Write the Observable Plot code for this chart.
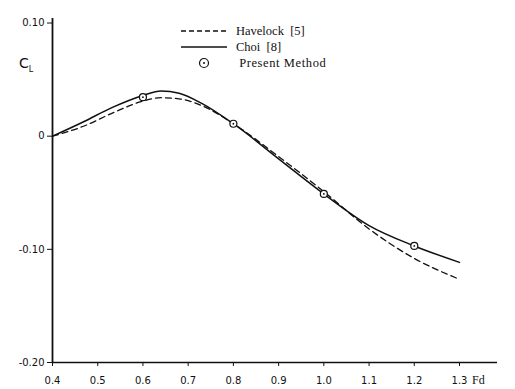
<!DOCTYPE html>
<html>
<head>
<meta charset="utf-8">
<script src="https://cdn.jsdelivr.net/npm/d3@7"></script>
<script src="https://cdn.jsdelivr.net/npm/@observablehq/plot@0.6"></script>
<style>
  html, body { margin: 0; padding: 0; background: #fff; }
  #wrap { position: relative; width: 515px; height: 389px; }
  #legend { position: absolute; left: 180px; top: 23px; font-family: "Liberation Serif", serif; font-size: 12.5px; color: #111; }
  #legend div { height: 16px; display: flex; align-items: center; }
  #legend svg { margin-right: 8px; }
  .lbl { position: absolute; font-family: "DejaVu Sans", sans-serif; color: #111; }
</style>
</head>
<body>
<div id="wrap">
  <div id="chart"></div>
  <div id="legend">
    <div><svg width="48" height="6"><line x1="1" y1="3" x2="47" y2="3" stroke="#111" stroke-width="1.3" stroke-dasharray="5,3"/></svg>Havelock&nbsp;&nbsp;[5]</div>
    <div><svg width="48" height="6"><line x1="1" y1="3" x2="47" y2="3" stroke="#111" stroke-width="1.5"/></svg>Choi&nbsp;&nbsp;[8]</div>
    <div><svg width="48" height="12"><circle cx="24" cy="6" r="4.5" fill="none" stroke="#111" stroke-width="1.2"/><circle cx="24" cy="6" r="1" fill="#111"/></svg>&nbsp;<span style="letter-spacing:0.6px">Present Method</span></div>
  </div>
  <div class="lbl" style="left:19px; top:55px; font-size:14px;">C<sub style="font-size:8px;">L</sub></div>
  <div class="lbl" style="left:472px; top:373px; font-size:12px; font-family:'Liberation Serif', serif;">Fd</div>
</div>
<script>
const fdHavelock = [0.4, 0.47, 0.53, 0.6, 0.64, 0.68, 0.73, 0.8, 0.9, 1.0, 1.1, 1.2, 1.3];
const clHavelock = [0, 0.009, 0.020, 0.031, 0.034, 0.033, 0.027, 0.011, -0.018, -0.049, -0.082, -0.108, -0.1265];
const fdChoi = [0.4, 0.47, 0.53, 0.6, 0.64, 0.68, 0.73, 0.8, 0.9, 1.0, 1.1, 1.2, 1.3];
const clChoi = [0, 0.013, 0.025, 0.036, 0.040, 0.038, 0.029, 0.011, -0.020, -0.051, -0.079, -0.097, -0.1115];
const fdPresent = [0.6, 0.8, 1.0, 1.2];
const clPresent = [0.0345, 0.011, -0.051, -0.097];
const xTicks = [0.4, 0.5, 0.6, 0.7, 0.8, 0.9, 1.0, 1.1, 1.2, 1.3];
const xTickLabels = ["0.4", "0.5", "0.6", "0.7", "0.8", "0.9", "1.0", "1.1", "1.2", "1.3"];
const yTicks = [0.10, 0, -0.10, -0.20];
const yTickLabels = ["0.10", "0", "-0.10", "-0.20"];

const havelock = fdHavelock.map((x, i) => ({x, y: clHavelock[i]}));
const choi = fdChoi.map((x, i) => ({x, y: clChoi[i]}));
const present = fdPresent.map((x, i) => ({x, y: clPresent[i]}));

const chart = Plot.plot({
  width: 515,
  height: 389,
  marginLeft: 52,
  marginRight: 18,
  marginTop: 18,
  marginBottom: 27,
  style: {fontFamily: "DejaVu Sans, sans-serif", fontSize: "10px", color: "#111", background: "#fff"},
  x: {domain: [0.4, 1.384]},
  y: {domain: [-0.2, 0.104]},
  marks: [
    Plot.axisX({ticks: xTicks, tickFormat: (d, i) => xTickLabels[i], tickSize: 4, tickPadding: 10, label: null, fontSize: 10}),
    Plot.axisY({ticks: yTicks, tickFormat: (d, i) => yTickLabels[i], tickSize: 5, tickPadding: 3, label: null, fontSize: 10}),
    Plot.ruleX([0.4], {stroke: "#111", strokeWidth: 1.8}),
    Plot.ruleY([-0.2], {stroke: "#111", strokeWidth: 1.3}),
    Plot.line(havelock, {x: "x", y: "y", curve: "monotone-x", stroke: "#111", strokeWidth: 1.3, strokeDasharray: "6,4"}),
    Plot.line(choi, {x: "x", y: "y", curve: "monotone-x", stroke: "#111", strokeWidth: 1.5}),
    Plot.dot(present, {x: "x", y: "y", r: 3.5, stroke: "#111", strokeWidth: 1.2, fill: "white"}),
    Plot.dot(present, {x: "x", y: "y", r: 0.9, fill: "#111"})
  ]
});
document.getElementById("chart").appendChild(chart);
</script>
</body>
</html>
